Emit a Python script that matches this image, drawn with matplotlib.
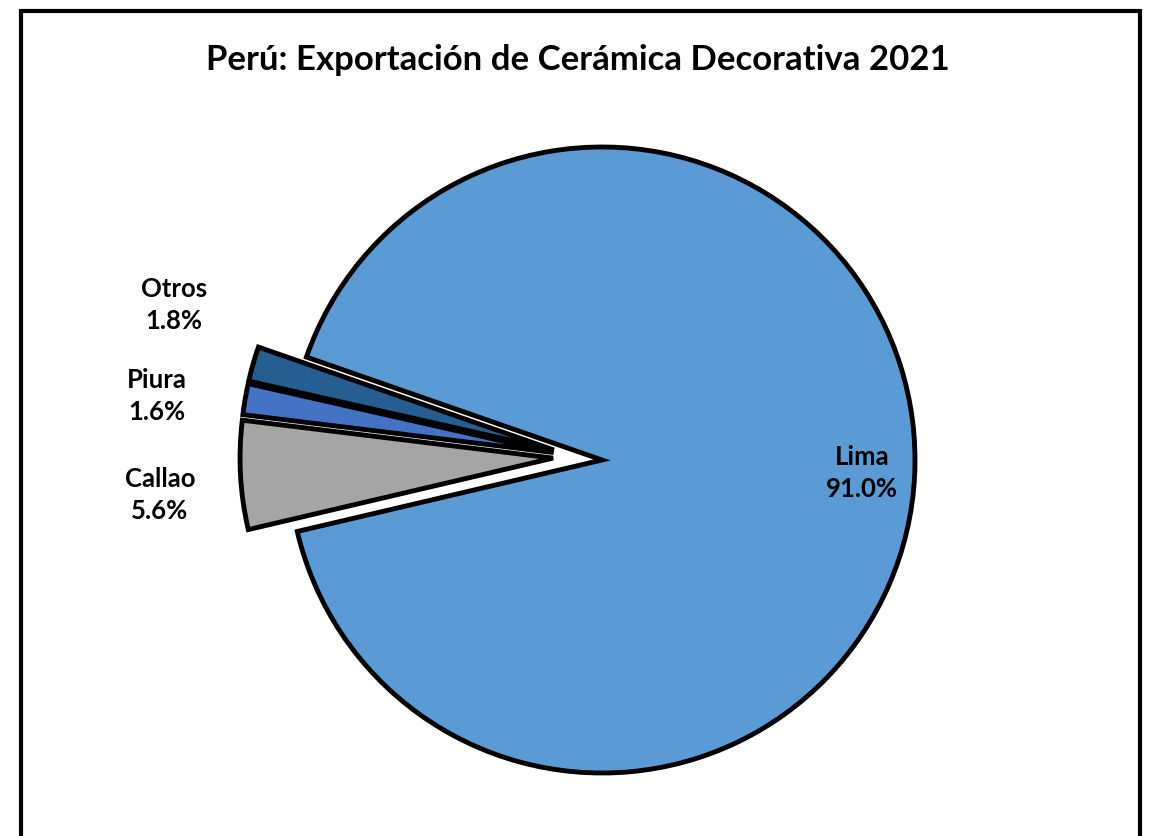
import numpy as np
import matplotlib.pyplot as plt
from matplotlib.patches import Rectangle

# datos: participación por región (%)
regiones = ["Lima", "Callao", "Piura", "Otros"]
participacion = [91.0, 5.6, 1.6, 1.8]
colores = ["#5B9BD5", "#A5A5A5", "#4472C4", "#255E91"]

titulo = "Perú: Exportación de Cerámica Decorativa 2021"

plt.rcParams['font.family'] = ['Lato', 'DejaVu Sans']

W, H = 1149, 836
fig = plt.figure(figsize=(W / 100, H / 100), dpi=100)
ax = fig.add_axes([0, 0, 1, 1])

cx, cy, R = 602, 376, 313
wedges, _ = ax.pie(participacion, colors=colores, startangle=160.8,
                   counterclock=False, radius=R, center=(cx, cy),
                   wedgeprops=dict(edgecolor='black', linewidth=3.5))

# separar las porciones pequeñas hacia la izquierda (como grupo)
pequenas = wedges[1:]
mid_grupo = np.mean([(w.theta1 + w.theta2) / 2 for w in pequenas])
d = 49
for w in pequenas:
    ang = np.deg2rad(((w.theta1 + w.theta2) / 2 + mid_grupo) / 2)
    w.set_center((cx + d * np.cos(ang), cy + d * np.sin(ang)))

ax.set_xlim(0, W)
ax.set_ylim(0, H)
ax.set_aspect('equal')
ax.axis('off')

# etiquetas
pos_etiquetas = {"Lima": (862, H - 473), "Callao": (160, H - 495),
                 "Piura": (157, H - 396), "Otros": (174, H - 305)}
for reg, val in zip(regiones, participacion):
    x, y = pos_etiquetas[reg]
    ax.text(x, y, f"{reg}\n{val:.1f}%", ha='center', va='center',
            fontsize=18.5, fontweight='bold', linespacing=1.4, color='black')

ax.text(578, H - 60, titulo, ha='center', va='center',
        fontsize=25, fontweight='bold', color='black')

# marco del gráfico
ax.add_patch(Rectangle((20.5, -30), 1119.5, H - 11 + 30, fill=False,
                       edgecolor='black', linewidth=3, clip_on=False))

fig.savefig("out.png", dpi=100)
